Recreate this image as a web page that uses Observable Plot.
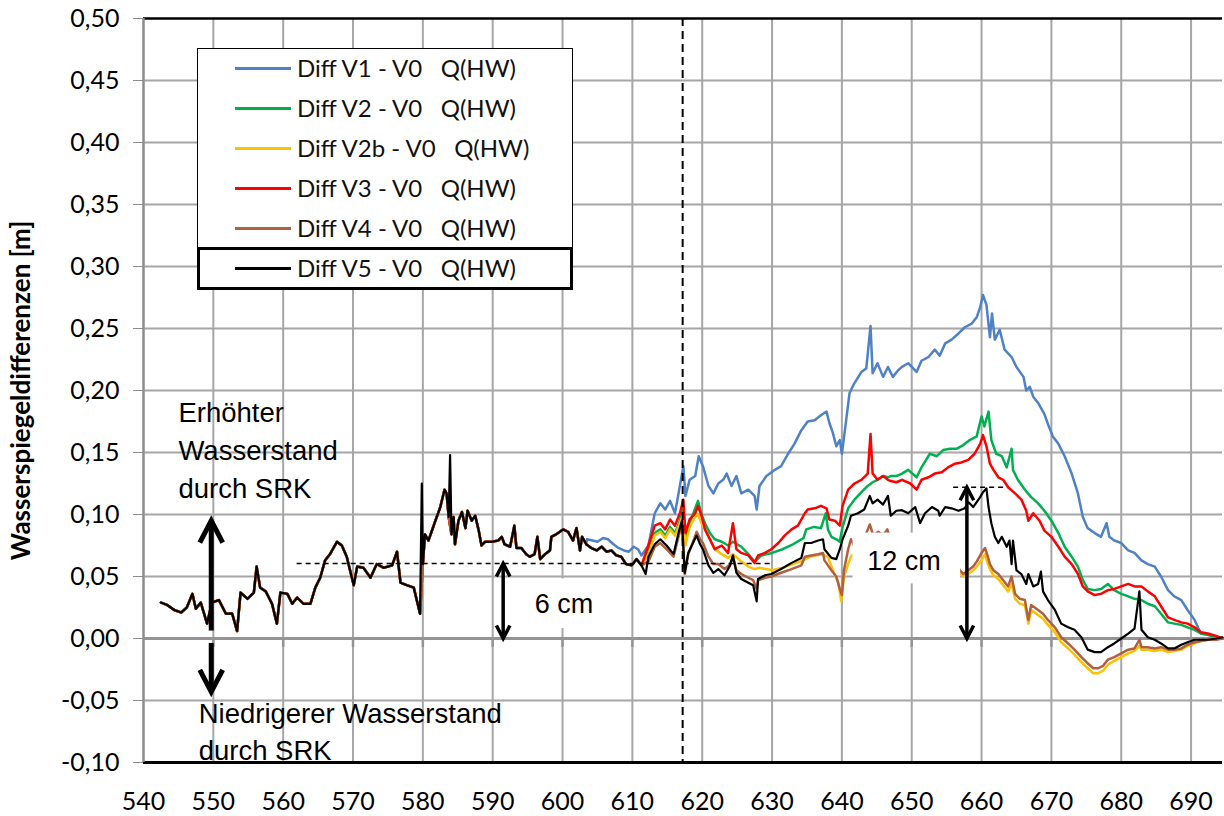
<!DOCTYPE html>
<html><head><meta charset="utf-8">
<script src="https://cdn.jsdelivr.net/npm/d3@7"></script>
<script src="https://cdn.jsdelivr.net/npm/@observablehq/plot@0.6"></script>
<style>
html,body{margin:0;padding:0;background:#fff;}
#wrap{position:relative;width:1224px;height:816px;overflow:hidden;}
#legend{position:absolute;left:197px;top:48px;width:376px;height:242px;background:#fff;font-family:Lato,"Open Sans",sans-serif;font-size:24px;color:#111;}
#legend .frame{position:absolute;left:0;top:0;right:0;bottom:0;border:1.5px solid #000;}
#legend .hl{position:absolute;left:0;top:199px;width:376px;height:43px;border:3.5px solid #000;box-sizing:border-box;}
#legend .row{position:absolute;left:0;width:376px;height:40px;}
#legend .swatch{position:absolute;left:38px;top:19px;width:56px;height:3px;}
#legend .lab{position:absolute;left:100px;top:0;line-height:40px;white-space:pre;}
</style></head><body><div id="wrap"></div>
<script>
// ---------- chart values ----------
const xTicks = [540,550,560,570,580,590,600,610,620,630,640,650,660,670,680,690];
const yTicks = [-0.10,-0.05,0.00,0.05,0.10,0.15,0.20,0.25,0.30,0.35,0.40,0.45,0.50];

const seriesNames = ["Diff V1 - V0   Q(HW)","Diff V2 - V0   Q(HW)","Diff V2b - V0   Q(HW)","Diff V3 - V0   Q(HW)","Diff V4 - V0   Q(HW)","Diff V5 - V0   Q(HW)"];
const seriesColors = ["#4f81c7","#00b050","#ffc000","#ff0000","#b0603f","#000000"];

// common course of all variants (km 542 - 611)
const commonKm = [542.5,543.4,544.4,545.4,546.2,547.0,547.5,548.2,549.1,549.8,550.8,551.8,552.7,553.4,553.9,554.9,555.8,556.2,556.7,557.5,558.4,559.1,559.6,560.6,561.3,562.0,562.9,563.9,564.6,565.3,566.0,566.7,567.7,568.4,569.1,570.1,570.6,571.5,572.5,573.4,574.4,575.6,576.3,576.8,577.7,578.7,579.6,580.0,580.3,580.8,581.8,582.5,583.1,583.4,583.7,584.1,584.4,584.6,585.1,585.6,586.1,586.4,587.0,587.5,588.0,588.4,588.9,589.9,590.8,591.3,591.7,592.5,593.1,593.4,594.1,594.8,595.3,596.0,596.4,596.8,597.5,598.2,598.4,599.1,600.1,600.8,601.5,602.0,602.5,602.8,603.4,604.1,604.9,605.6,606.3,607.0,607.7,608.4,609.1,609.9,610.6,611.3];
const commonVal = [0.029,0.027,0.023,0.021,0.025,0.036,0.024,0.029,0.012,0.029,0.031,0.020,0.020,0.006,0.037,0.032,0.037,0.058,0.041,0.038,0.028,0.012,0.037,0.036,0.028,0.033,0.028,0.028,0.041,0.049,0.063,0.068,0.078,0.075,0.066,0.043,0.058,0.057,0.049,0.060,0.057,0.059,0.070,0.045,0.043,0.041,0.020,0.060,0.084,0.079,0.095,0.106,0.120,0.117,0.098,0.084,0.098,0.076,0.095,0.102,0.089,0.103,0.095,0.099,0.087,0.075,0.078,0.078,0.079,0.082,0.076,0.074,0.091,0.073,0.073,0.068,0.066,0.068,0.082,0.064,0.068,0.071,0.082,0.084,0.088,0.086,0.079,0.089,0.071,0.082,0.076,0.073,0.071,0.074,0.070,0.071,0.067,0.066,0.060,0.059,0.064,0.059];

// V1
const v1Km = [603.5,604.3,605.0,605.8,606.5,607.3,608.0,608.8,609.5,610.2,610.8,611.3,612.3,613.2,614.0,614.7,615.4,616.1,616.8,617.3,617.6,618.2,619.0,619.5,620.1,620.9,621.6,622.3,623.0,623.5,624.2,624.9,625.6,626.6,627.5,627.8,628.2,629.2,630.4,631.3,632.3,633.2,634.2,635.1,636.1,637.0,637.8,638.2,638.7,639.2,639.7,640.0,640.5,641.1,641.8,642.8,643.5,644.1,644.4,645.1,645.9,646.6,647.3,648.0,648.6,649.5,650.7,651.4,652.4,653.3,654.0,654.8,655.7,656.7,657.6,658.6,659.3,659.8,660.2,660.7,661.2,661.5,661.9,662.6,663.3,664.3,665.0,666.0,666.4,666.9,667.4,668.1,669.0,669.5,670.2,671.0,671.9,672.9,673.8,674.5,675.2,676.2,677.1,677.9,678.3,679.0,680.0,681.0,681.9,682.9,683.8,684.8,685.7,686.7,687.6,688.6,689.5,690.5,691.4,692.4,693.6,694.5];
const v1Val = [0.080,0.079,0.078,0.081,0.080,0.076,0.073,0.071,0.070,0.074,0.072,0.067,0.075,0.101,0.109,0.104,0.111,0.101,0.123,0.139,0.115,0.128,0.131,0.147,0.139,0.123,0.117,0.125,0.128,0.133,0.123,0.131,0.117,0.120,0.115,0.104,0.123,0.131,0.136,0.139,0.149,0.157,0.168,0.175,0.176,0.180,0.183,0.174,0.166,0.155,0.160,0.149,0.171,0.198,0.206,0.215,0.218,0.252,0.214,0.222,0.211,0.219,0.211,0.216,0.219,0.222,0.215,0.224,0.227,0.233,0.228,0.238,0.241,0.246,0.251,0.254,0.259,0.267,0.277,0.269,0.243,0.262,0.241,0.249,0.233,0.227,0.219,0.211,0.200,0.203,0.195,0.190,0.181,0.173,0.163,0.157,0.147,0.133,0.117,0.098,0.089,0.085,0.082,0.093,0.082,0.079,0.077,0.071,0.069,0.063,0.060,0.058,0.050,0.039,0.034,0.031,0.023,0.015,0.004,0.003,0.001,0.000];

// V2
const v2Km = [612.3,613.2,614.0,614.7,615.4,616.1,616.8,617.3,617.6,618.2,619.0,619.4,619.9,620.4,621.1,621.8,622.8,623.7,624.4,625.6,626.6,627.5,628.5,630.0,631.5,633.0,634.5,634.9,636.0,637.0,637.7,638.0,638.5,639.2,639.7,640.1,640.9,641.8,642.8,643.7,644.4,645.1,645.9,646.6,647.0,647.8,648.6,649.5,650.7,651.4,652.6,653.6,654.5,655.5,656.4,657.4,658.3,659.3,660.0,660.4,661.0,661.4,662.1,662.9,663.6,664.3,664.5,665.2,666.2,667.1,668.1,669.0,670.0,671.0,671.9,672.9,673.8,674.5,675.2,676.2,677.1,678.1,679.0,680.0,681.0,681.9,682.9,683.8,684.8,685.7,686.7,687.6,688.6,689.5,690.5,691.4,692.4,693.6,694.5];
const v2Val = [0.070,0.085,0.088,0.083,0.090,0.085,0.095,0.105,0.080,0.093,0.105,0.111,0.100,0.093,0.085,0.080,0.078,0.075,0.078,0.074,0.068,0.062,0.067,0.069,0.072,0.076,0.081,0.088,0.090,0.089,0.101,0.088,0.082,0.080,0.078,0.090,0.105,0.112,0.118,0.123,0.126,0.128,0.131,0.130,0.131,0.131,0.133,0.136,0.130,0.138,0.149,0.147,0.152,0.153,0.153,0.156,0.160,0.163,0.179,0.171,0.183,0.160,0.149,0.147,0.138,0.153,0.136,0.128,0.120,0.114,0.109,0.103,0.095,0.085,0.074,0.066,0.058,0.047,0.040,0.039,0.040,0.044,0.039,0.036,0.034,0.032,0.031,0.028,0.026,0.020,0.013,0.012,0.011,0.009,0.007,0.004,0.003,0.001,0.000];

// V2b
const v2bKm = [612.3,613.2,614.0,614.7,615.4,616.1,616.8,617.3,617.6,618.2,619.0,619.4,619.9,620.4,621.1,621.8,622.8,623.7,624.4,625.6,626.6,627.5,628.2,630.0,631.5,633.0,634.5,635.5,637.0,638.0,638.7,639.5,639.9,640.3,640.9,641.3,642.0,644.0,646.0,648.0,650.0,652.0,654.0,656.0,656.9,657.4,658.1,658.8,659.3,660.0,660.5,660.9,661.2,661.7,662.4,663.1,663.8,664.3,664.8,665.5,666.2,666.7,667.1,668.1,668.8,669.5,670.5,671.4,672.4,673.3,674.3,675.2,676.0,676.7,677.4,678.1,679.0,680.0,681.0,681.9,682.6,682.9,683.8,684.8,685.7,686.7,687.6,688.6,689.5,690.5,691.4,692.4,693.6,694.5];
const v2bVal = [0.068,0.083,0.086,0.081,0.088,0.083,0.093,0.100,0.075,0.090,0.098,0.100,0.093,0.088,0.080,0.072,0.068,0.065,0.068,0.062,0.058,0.056,0.057,0.055,0.057,0.060,0.063,0.066,0.068,0.066,0.055,0.045,0.030,0.050,0.060,0.066,0.070,0.074,0.075,0.073,0.072,0.070,0.068,0.060,0.053,0.050,0.052,0.055,0.058,0.063,0.068,0.060,0.056,0.051,0.048,0.043,0.038,0.044,0.032,0.028,0.027,0.012,0.023,0.019,0.016,0.011,0.005,-0.003,-0.008,-0.013,-0.019,-0.024,-0.028,-0.028,-0.026,-0.021,-0.018,-0.015,-0.012,-0.010,-0.006,-0.009,-0.009,-0.010,-0.009,-0.011,-0.010,-0.009,-0.006,-0.004,-0.002,-0.001,0.000,0.000];

// V3
const v3Km = [612.3,613.2,614.0,614.7,615.4,616.1,616.8,617.3,617.6,618.2,619.0,619.4,619.9,620.4,621.1,621.8,622.8,623.7,624.4,624.9,625.6,626.6,627.5,628.0,629.0,629.9,630.9,631.8,632.8,633.7,634.7,635.1,636.1,637.0,637.8,638.2,639.0,639.7,640.1,640.9,641.8,642.8,643.7,644.1,644.4,645.1,645.9,646.6,647.0,647.8,648.6,649.8,650.7,651.4,652.4,653.3,654.3,655.2,656.2,657.1,658.1,659.0,659.8,660.2,660.7,661.2,661.7,662.4,663.1,663.8,664.8,665.7,666.4,666.7,667.4,668.3,669.0,670.0,671.0,671.9,672.9,673.8,674.5,675.2,676.2,677.1,678.1,679.0,680.0,681.0,681.9,682.9,683.8,684.8,685.7,686.7,687.6,688.6,689.5,690.5,691.4,692.4,693.6,694.5];
const v3Val = [0.075,0.091,0.093,0.088,0.096,0.091,0.101,0.112,0.085,0.096,0.101,0.107,0.099,0.088,0.080,0.072,0.075,0.069,0.093,0.072,0.069,0.067,0.061,0.067,0.069,0.072,0.077,0.083,0.088,0.091,0.101,0.104,0.105,0.107,0.105,0.096,0.095,0.091,0.107,0.120,0.125,0.128,0.133,0.165,0.133,0.128,0.131,0.128,0.127,0.126,0.128,0.125,0.120,0.128,0.130,0.133,0.134,0.138,0.141,0.142,0.144,0.149,0.157,0.164,0.155,0.141,0.136,0.130,0.128,0.122,0.117,0.112,0.103,0.095,0.101,0.095,0.087,0.082,0.074,0.066,0.060,0.052,0.042,0.038,0.035,0.036,0.039,0.040,0.042,0.044,0.042,0.042,0.038,0.034,0.026,0.017,0.015,0.013,0.012,0.009,0.005,0.004,0.002,0.000];

// V4
const v4Km = [612.3,613.2,614.0,614.9,615.9,616.6,617.1,617.5,618.0,618.5,619.2,619.7,620.1,620.9,621.6,622.3,623.2,624.0,624.4,624.9,625.6,626.6,627.3,627.8,628.0,629.0,629.9,631.3,632.8,634.2,634.7,635.6,636.6,637.3,637.5,638.5,639.2,639.7,640.0,640.3,640.9,641.3,641.8,642.8,643.5,644.0,644.5,645.2,645.9,646.5,647.0,648.5,650.0,652.0,654.0,656.0,656.9,657.4,658.1,658.8,659.3,660.0,660.5,660.9,661.2,661.7,662.4,663.1,663.8,664.3,664.8,665.5,666.2,666.7,667.1,668.1,668.8,669.5,670.5,671.4,672.4,673.3,674.3,675.2,676.0,676.7,677.4,678.1,679.0,680.0,681.0,681.9,682.6,682.9,683.8,684.8,685.7,686.7,687.6,688.6,689.5,690.5,691.4,692.4,693.6,694.5];
const v4Val = [0.062,0.074,0.077,0.072,0.066,0.082,0.092,0.052,0.068,0.075,0.086,0.080,0.077,0.066,0.060,0.060,0.056,0.060,0.066,0.055,0.052,0.049,0.047,0.040,0.047,0.049,0.050,0.053,0.056,0.059,0.066,0.067,0.068,0.069,0.063,0.055,0.050,0.040,0.035,0.055,0.072,0.080,0.074,0.075,0.085,0.092,0.083,0.086,0.083,0.088,0.080,0.078,0.076,0.075,0.073,0.062,0.055,0.052,0.055,0.058,0.062,0.069,0.073,0.066,0.060,0.055,0.052,0.047,0.042,0.050,0.036,0.032,0.031,0.015,0.027,0.023,0.020,0.015,0.009,0.001,-0.004,-0.009,-0.015,-0.020,-0.024,-0.024,-0.022,-0.017,-0.015,-0.012,-0.009,-0.008,-0.001,-0.007,-0.007,-0.008,-0.007,-0.009,-0.009,-0.008,-0.005,-0.003,-0.002,-0.001,-0.001,0.000];

// V5
const v5SpikeKm = [579.85,583.9];
const v5SpikeVal = [0.125,0.148];
const v5Km = [611.9,612.3,613.2,614.0,614.9,615.9,616.6,617.1,617.5,618.0,618.5,619.2,619.7,620.1,620.9,621.6,622.3,623.2,624.0,624.4,624.9,625.6,626.6,627.3,627.8,628.0,629.0,629.9,631.3,632.8,634.2,634.7,635.6,636.6,637.3,637.5,638.5,639.2,639.7,640.1,640.9,641.3,642.3,643.2,644.0,644.4,645.1,645.9,646.6,647.0,647.8,648.6,649.5,650.5,651.2,651.9,652.9,653.8,654.0,654.8,655.7,656.7,657.6,658.1,658.8,659.8,660.2,660.7,661.0,661.4,661.9,662.4,662.9,663.6,664.0,664.3,664.5,665.0,665.7,666.4,666.7,667.4,668.1,668.5,668.8,669.5,670.5,671.4,672.4,673.3,674.3,675.2,676.2,677.1,678.1,679.0,680.0,681.0,681.9,682.6,682.9,683.8,684.8,685.7,686.7,687.6,688.6,689.5,690.5,691.4,692.4,693.6,694.5];
const v5Val = [0.052,0.066,0.076,0.080,0.075,0.068,0.085,0.095,0.053,0.069,0.075,0.083,0.076,0.072,0.059,0.053,0.056,0.051,0.059,0.067,0.053,0.048,0.045,0.043,0.030,0.048,0.051,0.052,0.056,0.061,0.065,0.077,0.077,0.079,0.080,0.072,0.065,0.064,0.072,0.080,0.091,0.099,0.101,0.104,0.115,0.109,0.112,0.108,0.115,0.099,0.103,0.1035,0.101,0.106,0.093,0.101,0.106,0.103,0.099,0.106,0.105,0.103,0.105,0.110,0.106,0.114,0.118,0.121,0.106,0.093,0.082,0.077,0.082,0.074,0.079,0.060,0.079,0.055,0.052,0.044,0.052,0.042,0.044,0.054,0.038,0.031,0.023,0.012,0.009,0.007,0.001,-0.009,-0.011,-0.011,-0.007,-0.004,0.000,0.004,0.008,0.038,0.007,0.001,-0.001,-0.004,-0.008,-0.008,-0.005,-0.003,-0.001,-0.001,-0.001,0.000,0.001];

// annotations (data coordinates)
const refLineKm = [617.2];
const dashLevels = [{x1:562.0,x2:630.0,y:0.0605},{x1:656.0,x2:663.2,y:0.122}];
const labelBoxes = [{x1:594.0,x2:606.0,y1:0.008,y2:0.048},{x1:641.6,x2:657.0,y1:0.044,y2:0.085}];
const bigShafts = [{x:549.7,y1:0.006,y2:0.093},{x:549.7,y1:-0.004,y2:-0.041}];
const bigHeads = [{x:549.7,y:0.095,dir:0},{x:549.7,y:-0.043,dir:180}];
const smallShafts = [{x:591.5,y1:0.001,y2:0.059},{x:657.9,y1:0.001,y2:0.121}];
const smallHeads = [{x:591.5,y:0.0605,dir:0},{x:591.5,y:0.0,dir:180},{x:657.9,y:0.122,dir:0},{x:657.9,y:0.0,dir:180}];
const upperNote = [{x:545.0,y:0.1536,text:"Erhöhter\nWasserstand\ndurch SRK"}];
const lowerNote = [{x:547.9,y:-0.0734,text:"Niedrigerer Wasserstand\ndurch SRK"}];
const cmNotes = [{x:600.2,y:0.0274,text:"6 cm"},{x:648.9,y:0.062,text:"12 cm"}];
const yTitle = "Wasserspiegeldifferenzen [m]";

// ---------- assemble ----------
const pairs = (km, val) => km.map((k, i) => ({km: k, val: val[i]}));
const common = pairs(commonKm, commonVal);
const seriesData = [
  [...common.filter(d => d.km <= 603.4), ...pairs(v1Km, v1Val)],
  [...common, ...pairs(v2Km, v2Val)],
  [...common, ...pairs(v2bKm, v2bVal)],
  [...common, ...pairs(v3Km, v3Val)],
  [...common, ...pairs(v4Km, v4Val)],
  [...[...common, ...pairs(v5SpikeKm, v5SpikeVal)].sort((a, b) => a.km - b.km), ...pairs(v5Km, v5Val)]
];

const chevron = {draw(ctx, size) {
  const r = Math.sqrt(size / Math.PI);
  ctx.moveTo(-0.52 * r, r); ctx.lineTo(0, 0); ctx.lineTo(0.52 * r, r);
}};

const fmt = d => (Math.abs(d) < 1e-9 ? 0 : d).toFixed(2).replace(".", ",");
const gridX = xTicks.filter(d => d > 540);
const gridY = yTicks.filter(d => d > -0.1 && d < 0.5 && Math.abs(d) > 1e-9);
const annFont = "'Liberation Sans', Arial, sans-serif";

const seriesMarks = seriesData.map((data, i) =>
  Plot.line(data, {x: "km", y: "val", stroke: seriesColors[i], strokeWidth: i === 5 ? 2.2 : 2.5, strokeLinejoin: "round"})
);

const chart = Plot.plot({
  width: 1224, height: 816,
  marginLeft: 143, marginRight: 2, marginTop: 18, marginBottom: 54,
  x: {domain: [540, 694.5]},
  y: {domain: [-0.1, 0.5]},
  style: {fontFamily: "Lato, 'Open Sans', sans-serif", background: "#fff", color: "#000"},
  marks: [
    Plot.ruleX(gridX, {stroke: "#a6a6a6", strokeWidth: 2}),
    Plot.ruleY(gridY, {stroke: "#a6a6a6", strokeWidth: 2}),
    Plot.ruleY([0], {stroke: "#949494", strokeWidth: 3}),
    Plot.ruleX(gridX, {y1: 0, y2: -0.0072, stroke: "#949494", strokeWidth: 2.5}),
    ...seriesMarks,
    Plot.ruleX(refLineKm, {stroke: "#000", strokeWidth: 2, strokeDasharray: "8,5"}),
    Plot.rect(labelBoxes, {x1: "x1", x2: "x2", y1: "y1", y2: "y2", fill: "#fff"}),
    Plot.ruleY(dashLevels, {x1: "x1", x2: "x2", y: "y", stroke: "#000", strokeWidth: 1.6, strokeDasharray: "5,4"}),
    Plot.ruleX(bigShafts, {x: "x", y1: "y1", y2: "y2", stroke: "#000", strokeWidth: 5}),
    Plot.dot(bigHeads, {x: "x", y: "y", rotate: "dir", r: 22, symbol: chevron, fill: "none", stroke: "#000", strokeWidth: 5, strokeLinejoin: "miter"}),
    Plot.ruleX(smallShafts, {x: "x", y1: "y1", y2: "y2", stroke: "#000", strokeWidth: 3.5}),
    Plot.dot(smallHeads, {x: "x", y: "y", rotate: "dir", r: 13, symbol: chevron, fill: "none", stroke: "#000", strokeWidth: 3.5, strokeLinejoin: "miter"}),
    Plot.text(upperNote, {x: "x", y: "y", text: "text", textAnchor: "start", lineAnchor: "middle", lineHeight: 1.38, fontSize: 27.5, fontFamily: annFont, fill: "#000"}),
    Plot.text(lowerNote, {x: "x", y: "y", text: "text", textAnchor: "start", lineAnchor: "middle", lineHeight: 1.36, fontSize: 27.5, fontFamily: annFont, fill: "#000"}),
    Plot.text(cmNotes, {x: "x", y: "y", text: "text", textAnchor: "middle", lineAnchor: "middle", fontSize: 27, fontFamily: annFont, fill: "#000"}),
    Plot.ruleY([0.5], {stroke: "#000", strokeWidth: 2.5}),
    Plot.ruleY([-0.1], {stroke: "#000", strokeWidth: 3}),
    Plot.ruleX([540], {stroke: "#8c8c8c", strokeWidth: 2.5}),
    Plot.axisY({ticks: yTicks, tickFormat: fmt, tickSize: 10, tickPadding: 14, stroke: "#8c8c8c", fontSize: 25, label: null}),
    Plot.axisX({ticks: xTicks, tickFormat: d => String(d), tickSize: 0, tickPadding: 30, fontSize: 25, label: null}),
    Plot.text([yTitle], {frameAnchor: "left", text: d => d, dx: -122, rotate: -90, textAnchor: "middle", lineAnchor: "middle", fontSize: 26, fontWeight: "bold", fill: "#000"})
  ]
});

const wrap = document.getElementById("wrap");
wrap.appendChild(chart);

// legend
const legend = document.createElement("div");
legend.id = "legend";
legend.innerHTML = '<div class="frame"></div><div class="hl"></div>';
seriesNames.forEach((name, i) => {
  const row = document.createElement("div");
  row.className = "row";
  row.style.top = (40 * i) + "px";
  const sw = document.createElement("div");
  sw.className = "swatch";
  sw.style.background = seriesColors[i];
  const lab = document.createElement("div");
  lab.className = "lab";
  lab.textContent = name;
  row.appendChild(sw); row.appendChild(lab);
  legend.appendChild(row);
});
wrap.appendChild(legend);
</script></body></html>
